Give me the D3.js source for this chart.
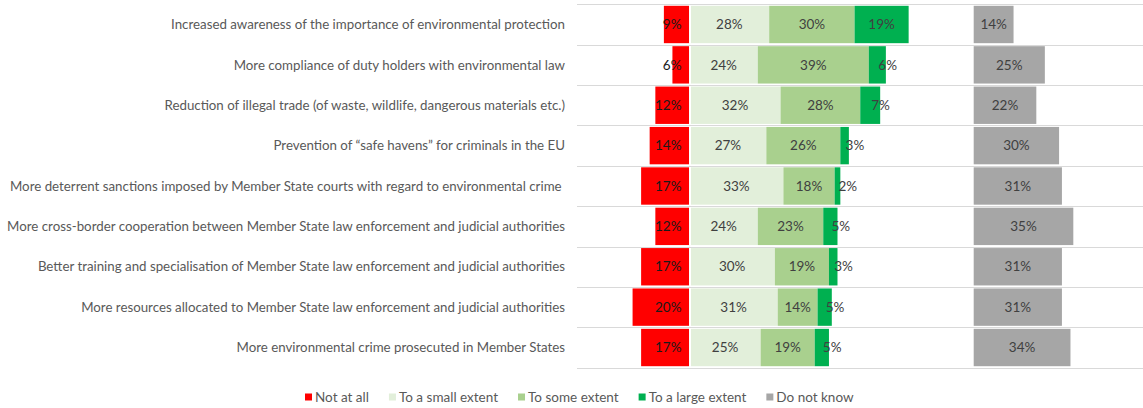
<!DOCTYPE html>
<html><head><meta charset="utf-8">
<script src="https://cdn.jsdelivr.net/npm/d3@7"></script>
<style>
html,body{margin:0;padding:0;background:#fff;}
svg{display:block;font-family:Lato,"Open Sans",sans-serif;}
</style></head>
<body>
<svg id="chart" width="1143" height="408"></svg>
<script>
const categories = [
  "Increased awareness of the importance of environmental protection",
  "More compliance of duty holders with environmental law",
  "Reduction of illegal trade (of waste, wildlife, dangerous materials etc.)",
  "Prevention of \u201csafe havens\u201d for criminals in the EU",
  "More deterrent sanctions imposed by Member State courts with regard to environmental crime ",
  "More cross-border cooperation between Member State law enforcement and judicial authorities",
  "Better training and specialisation of Member State law enforcement and judicial authorities",
  "More resources allocated to Member State law enforcement and judicial authorities",
  "More environmental crime prosecuted in Member States"
];
const seriesNames = ["Not at all","To a small extent","To some extent","To a large extent","Do not know"];
const notAtAll    = [9, 6, 12, 14, 17, 12, 17, 20, 17];
const smallExtent = [28, 24, 32, 27, 33, 24, 30, 31, 25];
const someExtent  = [30, 39, 28, 26, 18, 23, 19, 14, 19];
const largeExtent = [19, 6, 7, 3, 2, 5, 3, 5, 5];
const doNotKnow   = [14, 25, 22, 30, 31, 35, 31, 31, 34];
const colors = ["#FF0000","#E2EFDA","#A9D08E","#00B050","#A6A6A6"];

const svg = d3.select("#chart");
const W = 1143, H = 408;

const x = d3.scaleLinear().domain([0, 100]).range([689.5, 689.5 + 284.6]);
const xDK = d3.scaleLinear().domain([0, 100]).range([973.7, 973.7 + 284.6]);
const y = d3.scaleBand().domain(categories).range([4.3, 367.7]).padding(0);
const bw = y.bandwidth();
const inset = 1.5;

// gridlines at band boundaries
const bounds = categories.map(c => y(c)).concat([y(categories[categories.length-1]) + bw]);
svg.append("g").selectAll("line").data(bounds).join("line")
  .attr("x1", 577).attr("x2", W)
  .attr("y1", d => Math.round(d) + 0.5).attr("y2", d => Math.round(d) + 0.5)
  .attr("stroke", "#d9d9d9").attr("stroke-width", 1);

// category labels
svg.append("g").selectAll("text").data(categories).join("text")
  .attr("x", 565).attr("y", d => y(d) + bw/2)
  .attr("dy", "0.35em").attr("text-anchor", "end")
  .attr("fill", "#595959").style("font-size", "13.3px")
  .style("white-space", "pre")
  .text(d => d);

// build segments
const segs = [];
categories.forEach((c, i) => {
  segs.push({c, k: 0, x0: -notAtAll[i], x1: 0, v: notAtAll[i]});
  let acc = 0;
  [smallExtent, someExtent, largeExtent].forEach((arr, j) => {
    segs.push({c, k: j+1, x0: acc, x1: acc + arr[i], v: arr[i]});
    acc += arr[i];
  });
});

const g = svg.append("g");
g.selectAll("rect").data(segs).join("rect")
  .attr("x", d => x(d.x0) + (d.k === 1 ? 1.5 : 0))
  .attr("width", d => x(d.x1) - x(d.x0) - (d.k === 0 ? 0.5 : 0) - (d.k === 1 ? 1.5 : 0))
  .attr("y", d => y(d.c) + inset)
  .attr("height", bw - 2*inset)
  .attr("fill", d => colors[d.k]);

g.selectAll("text").data(segs).join("text")
  .attr("x", d => {
    if (d.k === 0) return x(0) - 8;
    const w = x(d.x1) - x(d.x0);
    const cx = (x(d.x0) + x(d.x1)) / 2;
    return w < 30 ? cx + 1 : cx;
  })
  .attr("text-anchor", d => {
    if (d.k === 0) return "end";
    const w = x(d.x1) - x(d.x0);
    return w < 30 ? "start" : "middle";
  })
  .attr("y", d => y(d.c) + bw/2).attr("dy", "0.35em")
  .attr("fill", d => d.k === 0 ? "#1a1a1a" : "#404040")
  .style("font-size", "13.5px")
  .text(d => d.v + "%");

// do not know panel
const gd = svg.append("g");
gd.selectAll("rect").data(categories).join("rect")
  .attr("x", xDK(0)).attr("width", (d, i) => xDK(doNotKnow[i]) - xDK(0))
  .attr("y", d => y(d) + inset).attr("height", bw - 2*inset)
  .attr("fill", colors[4]);
gd.selectAll("text").data(categories).join("text")
  .attr("x", (d, i) => (xDK(0) + xDK(doNotKnow[i])) / 2)
  .attr("y", d => y(d) + bw/2).attr("dy", "0.35em")
  .attr("text-anchor", "middle").attr("fill", "#404040")
  .style("font-size", "13.5px")
  .text((d, i) => doNotKnow[i] + "%");

// legend
const lg = svg.append("g");
const items = lg.selectAll("g").data(seriesNames).join("g");
items.append("rect").attr("width", 7).attr("height", 7).attr("y", 393.5)
  .attr("fill", (d, i) => colors[i]);
items.append("text").attr("x", 10).attr("y", 397.3).attr("dy", "0.35em")
  .attr("fill", "#595959").style("font-size", "13.5px").text(d => d);
let cur = 0;
const offs = [];
items.each(function() {
  offs.push(cur);
  const tw = d3.select(this).select("text").node().getComputedTextLength();
  cur += 10 + tw + 20;
});
const start = 305;
items.attr("transform", (d, i) => `translate(${start + offs[i]},0)`);
</script>
</body></html>
